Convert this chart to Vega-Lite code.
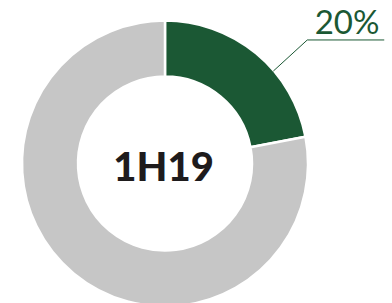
{
  "$schema": "https://vega.github.io/schema/vega-lite/v6.json",
  "width": 330,
  "height": 327,
  "padding": 0,
  "autosize": {"type": "pad"},
  "background": "white",
  "config": {"view": {"stroke": null}},
  "layer": [
    {
      "data": {"values": [
        {"segment": "1H19", "share": 22, "rank": 1},
        {"segment": "Other", "share": 78, "rank": 2}
      ]},
      "mark": {"type": "arc", "outerRadius": 143, "innerRadius": 87, "stroke": "white", "strokeWidth": 2.5},
      "encoding": {
        "theta": {"field": "share", "type": "quantitative", "stack": true},
        "order": {"field": "rank", "type": "quantitative", "sort": "ascending"},
        "color": {"field": "segment", "type": "nominal", "legend": null,
          "scale": {"domain": ["1H19", "Other"], "range": ["#1b5834", "#c6c6c6"]}}
      }
    },
    {
      "data": {"values": [
        {"px": 0.763, "py": 0.651, "step": 1},
        {"px": 1.002, "py": 0.870, "step": 2},
        {"px": 1.544, "py": 0.870, "step": 3}
      ]},
      "mark": {"type": "line", "color": "#1b5834", "strokeWidth": 1, "clip": false},
      "encoding": {
        "x": {"field": "px", "type": "quantitative", "axis": null, "scale": {"domain": [-1.162, 1.162], "nice": false, "zero": false}},
        "y": {"field": "py", "type": "quantitative", "axis": null, "scale": {"domain": [-1.1514, 1.1514], "nice": false, "zero": false}},
        "order": {"field": "step", "type": "quantitative"}
      }
    },
    {
      "data": {"values": [
        {"px": 1.282, "py": 0.912, "label": "20%", "kind": "pct"}
      ]},
      "mark": {"type": "text", "font": "Lato", "fontWeight": 400, "fontSize": 33, "color": "#1b5834", "align": "center", "baseline": "alphabetic", "clip": false},
      "encoding": {
        "x": {"field": "px", "type": "quantitative", "axis": null, "scale": {"domain": [-1.162, 1.162], "nice": false, "zero": false}},
        "y": {"field": "py", "type": "quantitative", "axis": null, "scale": {"domain": [-1.1514, 1.1514], "nice": false, "zero": false}},
        "text": {"field": "label"}
      }
    },
    {
      "data": {"values": [
        {"px": -0.01, "py": -0.121, "label": "1H19"}
      ]},
      "mark": {"type": "text", "font": "Lato", "fontWeight": 900, "fontSize": 40, "color": "#1e1b1c", "align": "center", "baseline": "alphabetic"},
      "encoding": {
        "x": {"field": "px", "type": "quantitative", "axis": null, "scale": {"domain": [-1.162, 1.162], "nice": false, "zero": false}},
        "y": {"field": "py", "type": "quantitative", "axis": null, "scale": {"domain": [-1.1514, 1.1514], "nice": false, "zero": false}},
        "text": {"field": "label"}
      }
    }
  ],
  "resolve": {"scale": {"color": "independent"}}
}
